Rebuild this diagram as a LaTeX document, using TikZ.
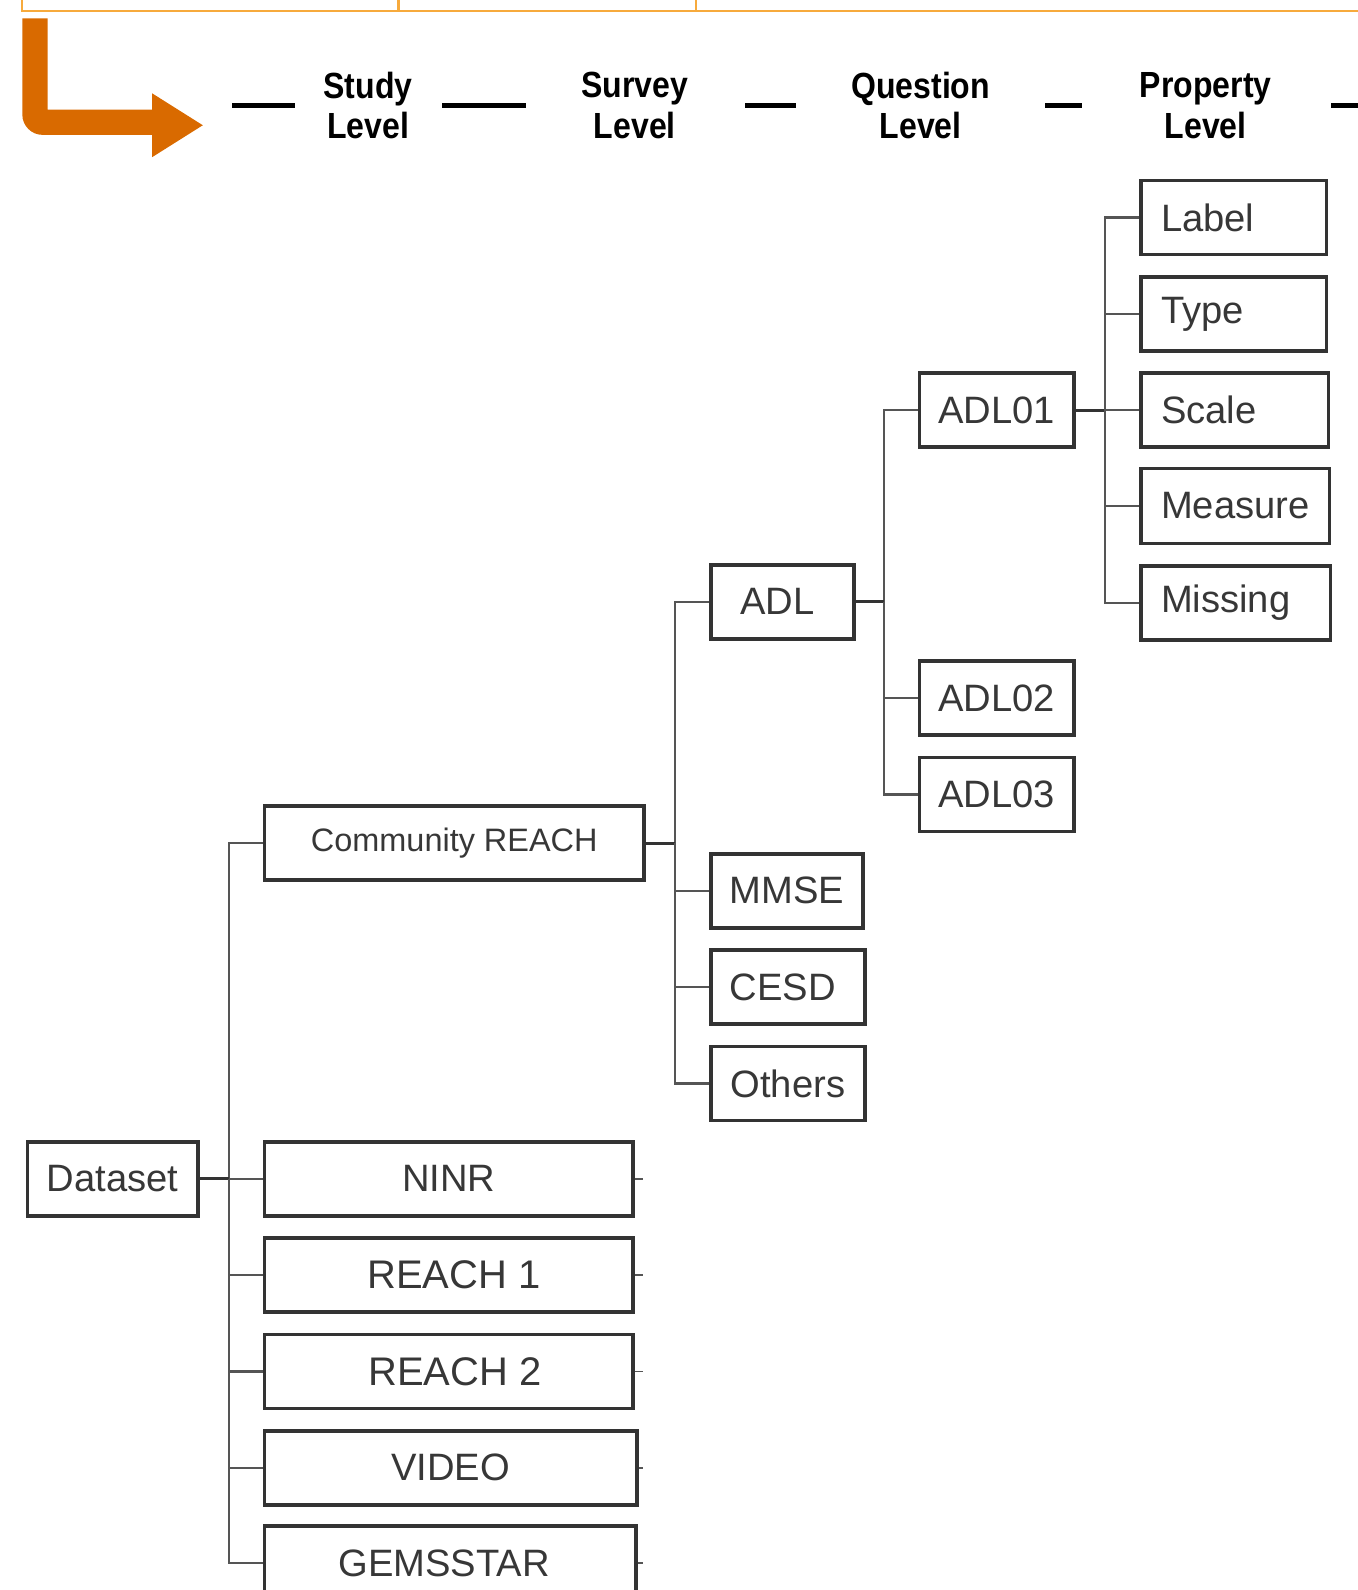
\documentclass[tikz,border=0pt]{standalone}
\usepackage{fontspec}
\setmainfont{Liberation Sans}
\usepackage{graphicx}
\definecolor{arroworange}{RGB}{217,106,0}
\definecolor{lineorange}{RGB}{247,170,60}
\definecolor{boxline}{RGB}{51,51,51}
\definecolor{connline}{RGB}{85,85,85}
\definecolor{txt}{RGB}{55,55,55}
\newcommand\hdtxt[1]{\scalebox{0.88}[1]{#1}}
\begin{document}
\begin{tikzpicture}[x=0.01cm,y=-0.01cm,
  box/.style={draw=boxline, line width=1pt, rectangle, minimum height=0.73cm,
    inner sep=0pt, text=txt, font=\fontsize{10.7}{12}\selectfont},
  bigbox/.style={box, font=\fontsize{11.2}{13}\selectfont},
  smallbox/.style={box, font=\fontsize{9.1}{11}\selectfont},
  propbox/.style={box, align=left, inner xsep=0.2cm},
  conn/.style={draw=connline, line width=0.6pt},
  parentconn/.style={draw=boxline, line width=0.8pt},
  hdr/.style={align=center, text=black, font=\fontsize{10.2}{11.4}\selectfont\bfseries},
  dashline/.style={line width=1.15pt, black},
  orangeline/.style={draw=lineorange, line width=0.6pt}]
\useasboundingbox (0,0) rectangle (1339,1568);
\clip (0,0) rectangle (1339,1568);

% top orange table lines
\draw[orangeline] (22,0) -- (22,11) -- (1339,11);
\draw[orangeline] (393,0) -- (393,11);
\draw[orangeline] (686,0) -- (686,11);

% orange bent arrow
\fill[arroworange] (22,18) -- (47,18) -- (47,108) -- (150,108) -- (150,92) -- (200,123.5)
  -- (150,155) -- (150,133) -- (42,133) .. controls (31,133) and (22,124) .. (22,113) -- cycle;

% header
\node[hdr] (hstudy) at (363,104) {\hdtxt{Study}\\\hdtxt{Level}};
\node[hdr] (hsurvey) at (626,104) {\hdtxt{Survey}\\\hdtxt{Level}};
\node[hdr] (hquestion) at (908,104) {\hdtxt{Question}\\\hdtxt{Level}};
\node[hdr] (hproperty) at (1189,104) {\hdtxt{Property}\\\hdtxt{Level}};
\draw[dashline] (229,104) -- (291,104);
\draw[dashline] (436,104) -- (519,104);
\draw[dashline] (735,104) -- (785,104);
\draw[dashline] (1031,104) -- (1067,104);
\draw[dashline] (1313,104) -- (1339,104);

% property level
\node[propbox, text width=1.43cm] (label) at (1216.5,214.5) {Label};
\node[propbox, text width=1.43cm] (type) at (1216.5,309.5) {Type};
\node[propbox, text width=1.45cm] (scale) at (1217.5,404.5) {Scale};
\node[propbox, text width=1.46cm, minimum height=0.74cm] (measure) at (1218,499) {Measure};
\node[propbox, text width=1.47cm] (missing) at (1218.5,594.5) {Missing};

% question level
\node[box, minimum width=1.52cm] (adl01) at (983,404.5) {ADL01};
\node[box, minimum width=1.52cm] (adl02) at (983,688.5) {ADL02};
\node[box, minimum width=1.52cm] (adl03) at (983,783.5) {ADL03};

% survey level
\node[box, minimum width=1.41cm] (adl) at (771.5,593.5) {\hspace*{-0.1cm}ADL};
\node[box, minimum width=1.50cm] (mmse) at (776,878.5) {MMSE};
\node[box, minimum width=1.52cm] (cesd) at (777,973.5) {\hspace*{-0.1cm}CESD};
\node[box, minimum width=1.52cm] (others) at (777,1068.5) {Others};

% study level
\node[smallbox, minimum width=3.74cm] (cr) at (448,831.5) {Community REACH};
\node[box, minimum width=1.68cm] (dataset) at (111,1162.5) {Dataset};
\node[box, minimum width=3.63cm] (ninr) at (442.5,1162.5) {NINR};
\node[bigbox, minimum width=3.63cm] (reach1) at (442.5,1257.5) {\hspace*{0.1cm}REACH 1};
\node[bigbox, minimum width=3.63cm] (reach2) at (442.5,1352.5) {\hspace*{0.12cm}REACH 2};
\node[box, minimum width=3.67cm] (video) at (444.5,1447.5) {VIDEO};
\node[box, minimum width=3.66cm] (gems) at (444,1541.5) {\hspace*{-0.12cm}GEMSSTAR};

% spine coordinates
\coordinate (s1) at (226,1162.5);
\coordinate (s2) at (666,831.5);
\coordinate (s3) at (872,593.5);
\coordinate (s4) at (1090,404.5);

% study connectors
\draw[conn] (cr.west) -| (s1) |- (gems.west);
\draw[parentconn] (dataset.east) -- (s1);
\draw[conn] (s1) -- (ninr.west);
\draw[conn] (s1) |- (reach1.west);
\draw[conn] (s1) |- (reach2.west);
\draw[conn] (s1) |- (video.west);

% survey connectors
\draw[conn] (adl.west) -| (s2) |- (others.west);
\draw[parentconn] (cr.east) -- (s2);
\draw[conn] (s2) |- (mmse.west);
\draw[conn] (s2) |- (cesd.west);

% question connectors
\draw[conn] (adl01.west) -| (s3) |- (adl03.west);
\draw[parentconn] (adl.east) -- (s3);
\draw[conn] (s3) |- (adl02.west);

% property connectors
\draw[conn] (label.west) -| (s4) |- (missing.west);
\draw[parentconn] (adl01.east) -- (s4);
\draw[conn] (s4) |- (type.west);
\draw[conn] (s4) -- (scale.west);
\draw[conn] (s4) |- (measure.west);

% small stubs on the right of study boxes
\draw[conn, line width=0.4pt] (ninr.east) -- ++(8,0);
\draw[conn, line width=0.4pt] (reach1.east) -- ++(8,0);
\draw[conn, line width=0.4pt] (reach2.east) -- ++(8,0);
\draw[conn, line width=0.4pt] (video.east) -- ++(4,0);
\draw[conn, line width=0.4pt] (gems.east) -- ++(5,0);
\end{tikzpicture}
\end{document}
